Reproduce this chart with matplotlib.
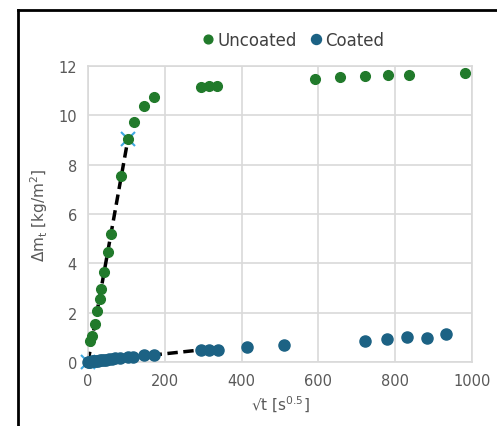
import matplotlib
matplotlib.use("Agg")
import matplotlib.pyplot as plt
from matplotlib.lines import Line2D

# Data
unc_x = [4, 10, 17, 24, 30, 33, 42, 52, 61, 87, 104, 120, 146, 171, 293, 314, 337, 590, 657, 722, 781, 835, 983]
unc_y = [0.85, 1.06, 1.53, 2.07, 2.55, 2.96, 3.63, 4.45, 5.19, 7.54, 9.03, 9.71, 10.39, 10.73, 11.13, 11.17, 11.17, 11.48, 11.55, 11.59, 11.63, 11.63, 11.70]
coa_x = [0, 3, 6, 10, 14, 18, 22, 27, 32, 37, 42, 48, 55, 62, 70, 83, 104, 117, 146, 171, 293, 314, 339, 415, 510, 722, 779, 832, 883, 932]
coa_y = [0.0, 0.01, 0.02, 0.03, 0.03, 0.04, 0.05, 0.06, 0.07, 0.08, 0.09, 0.10, 0.12, 0.13, 0.15, 0.18, 0.20, 0.20, 0.30, 0.30, 0.49, 0.49, 0.49, 0.60, 0.70, 0.87, 0.94, 1.02, 0.98, 1.13]
fit_unc_x = [0, 104]
fit_unc_y = [0, 9.03]
fit_coa_x = [0, 300]
fit_coa_y = [0, 0.5]
xticks = [0, 200, 400, 600, 800, 1000]
yticks = [0, 2, 4, 6, 8, 10, 12]

green = "#217a2b"
blue = "#1c6284"
gray_txt = "#595959"
grid_c = "#d9d9d9"

fig = plt.figure(figsize=(4.97, 4.27), dpi=100)
ax = fig.add_axes([88/497, 1-363/427, (472-88)/497, (363-67)/427])

ax.plot(fit_unc_x, fit_unc_y, color="black", lw=2.5, ls=(0, (3, 1.6)), zorder=2, clip_on=False)
ax.plot(fit_coa_x, fit_coa_y, color="black", lw=2.5, ls=(0, (3, 1.6)), zorder=2, clip_on=False)

ax.plot(fit_unc_x, fit_unc_y, "x", color="#3ea8e0", ms=10, mew=1.5, ls="none", zorder=2.5, clip_on=False)

ax.plot(unc_x, unc_y, "o", color=green, ms=7, mec=green, ls="none", label="Uncoated", zorder=3, clip_on=False)
ax.plot(coa_x, coa_y, "o", color=blue, ms=8, mec=blue, ls="none", label="Coated", zorder=3, clip_on=False)

ax.set_xlim(0, 1000)
ax.set_ylim(0, 12)
ax.set_xticks(xticks)
ax.set_yticks(yticks)
ax.grid(True, color=grid_c, lw=1.2)
ax.set_axisbelow(True)
for s in ax.spines.values():
    s.set_color(grid_c)
    s.set_linewidth(1.2)
ax.tick_params(length=0, labelsize=10.5, labelcolor=gray_txt, pad=8)

ax.set_xlabel("√t [s$^{0.5}$]", color=gray_txt, fontsize=11, labelpad=4)
ax.set_ylabel("Δm$_\\mathregular{t}$ [kg/m$^\\mathregular{2}$]", color=gray_txt, fontsize=11, labelpad=6)

leg = fig.legend(loc="center", bbox_to_anchor=(292/497, 1-41/427), ncol=2, frameon=False,
                 fontsize=12, handletextpad=0.1, columnspacing=0.6, handlelength=1.0,
                 markerscale=0.9)
for t in leg.get_texts():
    t.set_color("#404040")

# outer frame (partial, as in reference)
fig.add_artist(Line2D([18/497, 18/497], [0, 1-11/427], color="black", lw=2, transform=fig.transFigure))
fig.add_artist(Line2D([18/497, 1], [1-11/427, 1-11/427], color="black", lw=2, transform=fig.transFigure))

fig.savefig("out.png", dpi=100)
